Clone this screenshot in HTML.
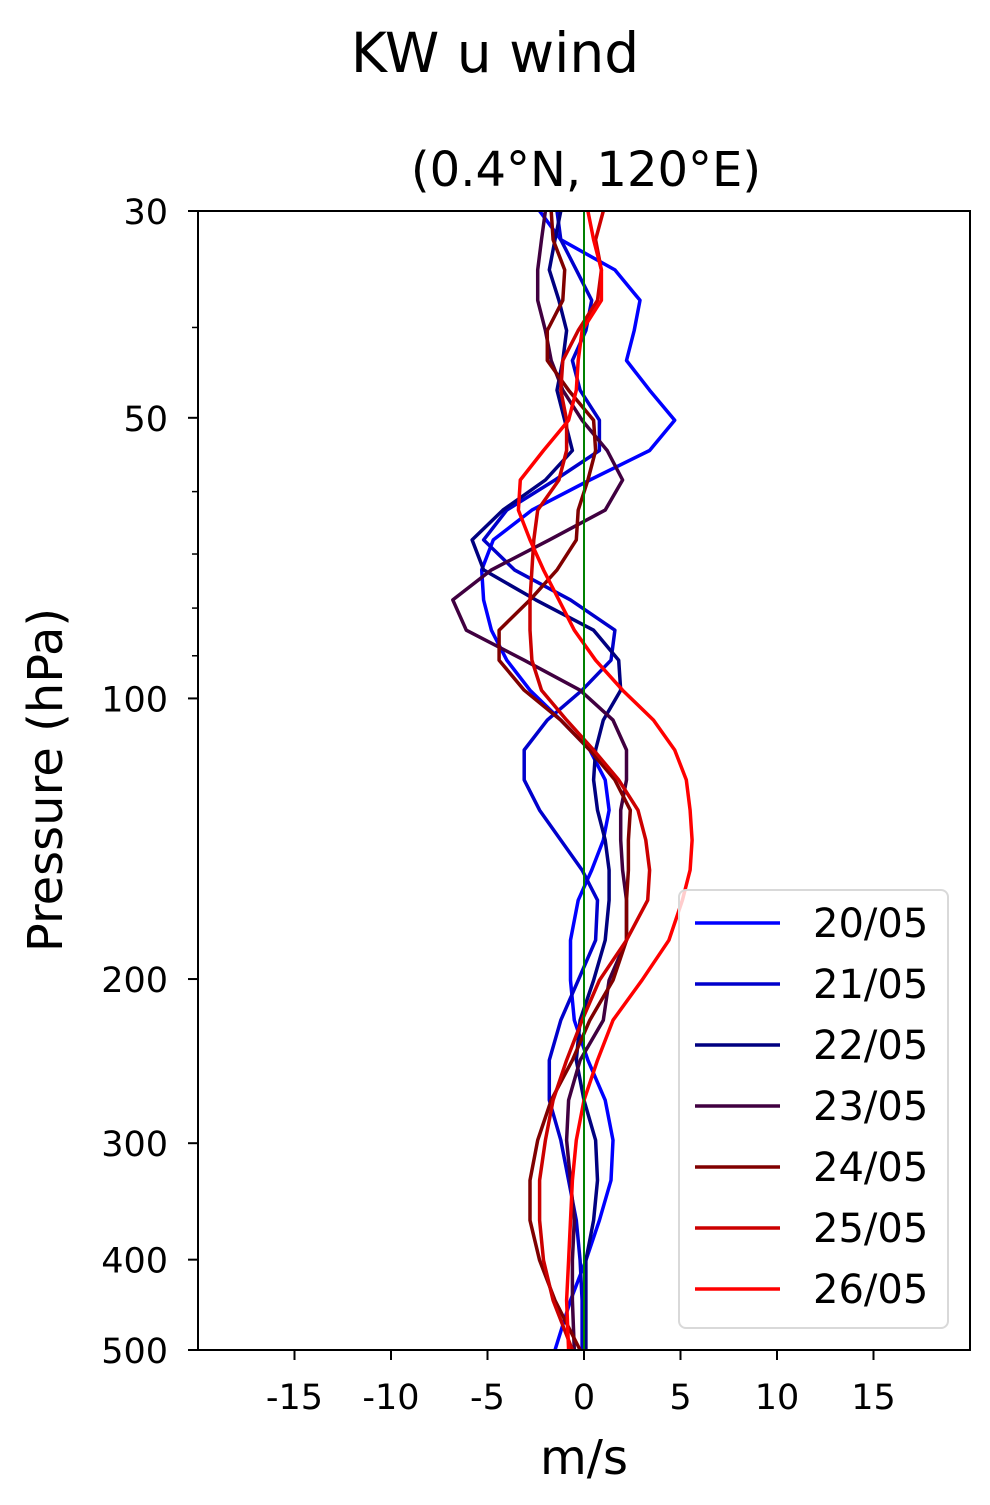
<!DOCTYPE html>
<html><head><meta charset="utf-8"><style>
body{margin:0;background:#fff;}
svg text{font-family:"DejaVu Sans","Liberation Sans",sans-serif;fill:#000;}
</style></head><body>
<svg id="chart" width="990" height="1500" viewBox="0 0 990 1500" xmlns="http://www.w3.org/2000/svg">
<rect width="990" height="1500" fill="#fff"/>
<text x="495" y="72" font-size="55" text-anchor="middle">KW u wind</text>
<text x="586" y="186" font-size="48" text-anchor="middle">(0.4°N, 120°E)</text>
<g id="series"></g>
<g id="axes"></g>
<text transform="translate(62,780) rotate(-90)" font-size="48" text-anchor="middle">Pressure (hPa)</text>
<text x="584" y="1474" font-size="48" text-anchor="middle">m/s</text>
<g id="legend"></g>
</svg>
<script>
const levels=[30,32.2,34.7,37.4,40.3,43.4,46.7,50.3,54.2,58.3,62.8,67.6,72.8,78.4,84.5,91,98,105.5,113.6,122.3,131.8,141.9,152.8,164.6,181.7,200.6,221.4,244.4,269.8,297.8,328.8,362.9,400.6,442.3,500];
const seriesNames=["20/05","21/05","22/05","23/05","24/05","25/05","26/05"];
const u2005=[-2.3,-1.2,1.6,2.9,2.6,2.2,3.4,4.7,3.4,0.3,-2.7,-4.7,-5.3,-5.2,-4.8,-4.0,-2.8,-1.2,0.3,1.1,1.3,1.0,0.4,-0.3,-0.7,-0.7,-0.5,0.2,1.1,1.5,1.4,0.8,0.1,-0.7,-1.5];
const u2105=[-1.4,-1.2,-0.4,0.4,0.1,-0.6,-0.2,0.8,0.8,-1.5,-4.0,-5.2,-3.6,-0.7,1.6,1.4,-0.1,-1.9,-3.1,-3.1,-2.3,-1.2,-0.1,0.7,0.6,-0.3,-1.2,-1.8,-1.8,-1.2,-0.8,-0.4,-0.2,-0.1,-0.1];
const u2205=[-1.2,-1.5,-1.8,-1.3,-0.9,-1.1,-1.4,-1.0,-0.6,-2.0,-4.2,-5.8,-5.2,-2.5,0.5,1.8,1.9,1.0,0.6,0.5,0.7,1.1,1.3,1.3,1.1,0.5,-0.2,-0.4,0.0,0.6,0.7,0.5,0.1,0.1,0.1];
const u2305=[-2.0,-2.2,-2.4,-2.4,-2.0,-1.7,-1.1,-0.1,1.2,2.0,1.1,-1.8,-4.8,-6.8,-6.1,-3.1,-0.2,1.5,2.2,2.2,1.9,1.9,2.0,2.2,2.2,1.3,1.0,-0.2,-0.8,-0.9,-0.7,-0.5,-0.6,-0.6,-0.5];
const u2405=[-1.7,-1.6,-1.0,-1.1,-1.9,-1.9,-0.8,0.5,0.6,0.2,-0.3,-0.4,-1.4,-2.8,-4.4,-4.4,-3.1,-1.2,0.3,1.6,2.4,2.3,2.3,2.2,2.2,1.5,0.3,-0.6,-1.7,-2.4,-2.8,-2.8,-2.3,-1.5,-0.2];
const u2505=[1.0,0.6,0.9,0.7,-0.3,-1.1,-1.2,-0.9,-0.9,-1.3,-2.4,-2.6,-2.7,-2.8,-2.8,-2.7,-2.2,-0.9,0.5,1.8,2.8,3.2,3.4,3.3,2.2,0.8,-0.1,-0.9,-1.6,-2.0,-2.3,-2.3,-2.1,-1.6,-0.6];
const u2605=[0.2,0.5,0.9,0.9,-0.1,-0.3,-0.4,-0.8,-2.1,-3.3,-3.4,-2.8,-2.1,-1.3,-0.5,0.6,2.0,3.6,4.7,5.3,5.5,5.6,5.5,5.1,4.4,3.0,1.5,0.7,0.0,-0.4,-0.6,-0.7,-0.8,-0.9,-0.8];
const seriesColors=["#0000ff","#0000cc","#000080","#400040","#800000","#cc0000","#ff0000"];
const xTicks=[-15,-10,-5,0,5,10,15];
const yTicks=[30,50,100,200,300,400,500];
const yMinorTicks=[40,60,70,80,90];

const NS="http://www.w3.org/2000/svg";
const L=198,R=970,T=211,B=1350,XMIN=-20,XMAX=20,PTOP=30,PBOT=500;
function xs(u){return L+(u-XMIN)/(XMAX-XMIN)*(R-L);}
function ys(p){return T+(Math.log10(p)-Math.log10(PTOP))/(Math.log10(PBOT)-Math.log10(PTOP))*(B-T);}
function mk(tag,attrs,parent){const e=document.createElementNS(NS,tag);for(const k in attrs)e.setAttribute(k,attrs[k]);parent.appendChild(e);return e;}

const sg=document.getElementById('series');
const all=[u2005,u2105,u2205,u2305,u2405,u2505,u2605];
const defs=mk('defs',{},sg);
const cp=mk('clipPath',{id:'pc'},defs);
mk('rect',{x:L,y:T,width:R-L,height:B-T},cp);
all.forEach((arr,i)=>{
  const pts=arr.map((u,j)=>xs(u).toFixed(1)+','+ys(levels[j]).toFixed(1)).join(' ');
  const pl=mk('polyline',{points:pts,fill:'none',stroke:seriesColors[i],'stroke-width':3.5,'stroke-linejoin':'round','clip-path':'url(#pc)'},sg);
  
  
});
const zl=mk('line',{x1:xs(0),x2:xs(0),y1:T,y2:B,stroke:'#008000','stroke-width':2},sg);



const ag=document.getElementById('axes');
const fr=mk('rect',{x:L,y:T,width:R-L,height:B-T,fill:'none',stroke:'#000','stroke-width':2},ag);


xTicks.forEach(v=>{
  const x=xs(v);
  const t=mk('line',{x1:x,x2:x,y1:B,y2:B+10,stroke:'#000','stroke-width':2},ag);
  
  
  const tx=mk('text',{x:x,y:B+59,'font-size':35,'text-anchor':'middle'},ag);
  tx.textContent=String(v);
  
  
});
yTicks.forEach(v=>{
  const y=ys(v);
  const t=mk('line',{x1:L-10,x2:L,y1:y,y2:y,stroke:'#000','stroke-width':2},ag);
  
  
  const tx=mk('text',{x:L-30,y:y+13,'font-size':35,'text-anchor':'end'},ag);
  tx.textContent=String(v);
  
  
});
yMinorTicks.forEach(v=>{
  const y=ys(v);
  const t=mk('line',{x1:L-6,x2:L,y1:y,y2:y,stroke:'#000','stroke-width':1.5},ag);
  
  
});

const lg=document.getElementById('legend');
const box=mk('rect',{x:679,y:890,width:269,height:438,rx:7,fill:'#fff','fill-opacity':0.8,stroke:'#d9d9d9','stroke-width':2},lg);


seriesNames.forEach((n,i)=>{
  const y=923+i*61;
  const g=mk('g',{},lg);
  
  
  mk('line',{x1:695,x2:780,y1:y,y2:y,stroke:seriesColors[i],'stroke-width':3.5},g);
  const t=mk('text',{x:813,y:y+14,'font-size':40},g);
  t.textContent=n;
});
</script>
</body></html>
